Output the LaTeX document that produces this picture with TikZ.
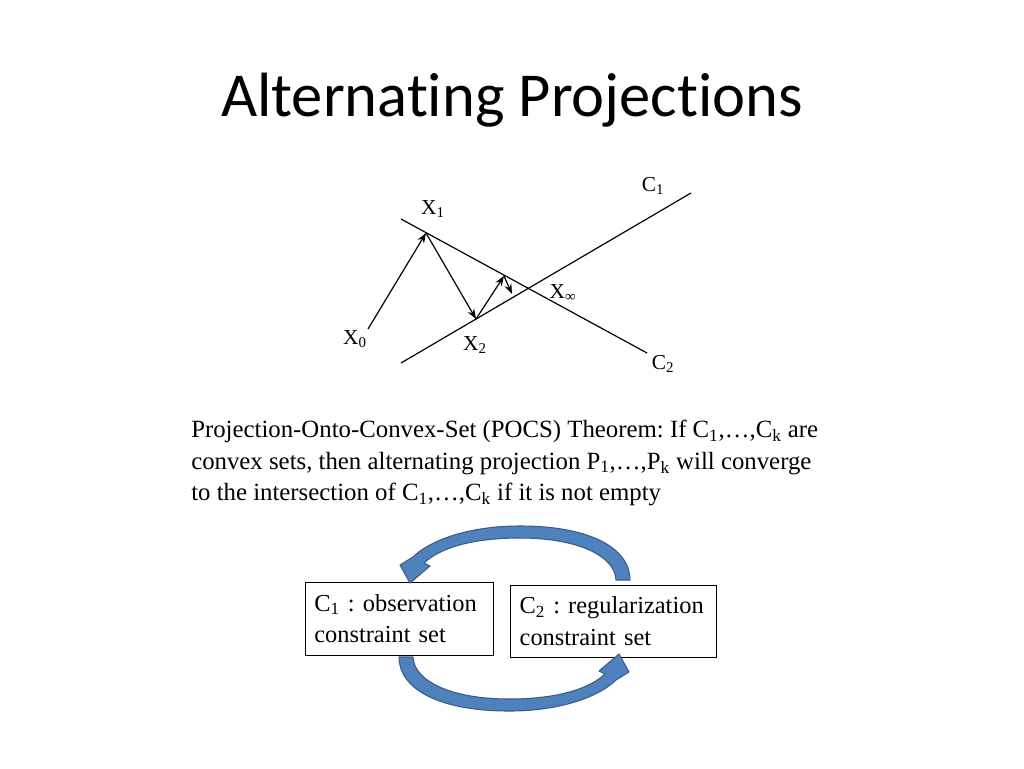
\documentclass[tikz,border=0pt]{standalone}
\usepackage{fontspec}
\setmainfont{Liberation Serif}
\newfontfamily\titlefont[RawFeature=-liga]{Carlito}
\usetikzlibrary{arrows.meta}
\frenchspacing
\definecolor{arrowblue}{HTML}{4F81BD}
\definecolor{arrowedge}{HTML}{385D8A}
\tikzset{
  lbl/.style={inner sep=0pt, font=\fontsize{16}{19}\selectfont},
  setline/.style={line width=0.9pt},
  projarrow/.style={line width=0.9pt, -{Stealth[length=7.5pt,width=5.5pt]}},
  setbox/.style={draw, line width=0.7pt, align=left, font=\fontsize{18.3}{23.5}\selectfont\frenchspacing, inner xsep=0pt, inner ysep=0pt},
  curvarrow/.pic={
    \filldraw[fill=arrowblue, draw=arrowedge, line width=0.8pt, line join=round]
      (630,580) .. controls (630,548) and (590,526) .. (520,526)
      .. controls (465,526) and (428,542) .. (413,557)
      -- (400,565) -- (410,583) -- (430,566) -- (424,563)
      .. controls (440,548) and (472,538) .. (520,538)
      .. controls (578,538) and (615,556) .. (616,580) -- cycle;
  }
}
\begin{document}
\begin{tikzpicture}[x=0.75pt,y=-0.75pt]
\useasboundingbox (0,0) rectangle (1024,768);
\fill[white] (0,0) rectangle (1024,768);
% title
\node[inner sep=0pt, font=\titlefont\fontsize{46.9}{56}\selectfont] (title) at (512,100) {Alternating Projections};
% sets
\coordinate (c1a) at (401,363);
\coordinate (c1b) at (691,193);
\coordinate (c2a) at (401,219);
\coordinate (c2b) at (647,353);
\draw[setline] (c1a) -- (c1b);
\draw[setline] (c2a) -- (c2b);
% iterates
\coordinate (p0) at (368,329);
\coordinate (p1) at (426,233);
\coordinate (p2) at (476,319);
\coordinate (p3) at (504,276);
\coordinate (p4) at (512,294);
\draw[projarrow] (p0) -- (p1);
\draw[projarrow] (p1) -- (p2);
\draw[projarrow] (p2) -- (p3);
\draw[projarrow] (p3) -- (p4);
% labels
\node[lbl] (x0) at (355,339) {X\textsubscript{0}};
\node[lbl] (x1) at (433,209) {X\textsubscript{1}};
\node[lbl] (x2) at (475,345) {X\textsubscript{2}};
\node[lbl] (xinf) at (563,293) {X\textsubscript{∞}};
\node[lbl] (c1) at (653,186) {C\textsubscript{1}};
\node[lbl] (c2) at (663,364) {C\textsubscript{2}};
% theorem
\node[anchor=north west, inner sep=0pt, align=left, font=\fontsize{18.6}{23.6}\selectfont] (thm) at (191,420)
 {Projection-Onto-Convex-Set (POCS) Theorem: If C\textsubscript{1},…,C\textsubscript{k} are\\
  convex sets, then alternating projection P\textsubscript{1},…,P\textsubscript{k} will converge\\
  to the intersection of C\textsubscript{1},…,C\textsubscript{k} if it is not empty};
% boxes
\node[setbox, minimum width=141pt, minimum height=54.75pt, text width=127pt] (b1) at (399,618.5)
 {C\textsubscript{1} : observation\\constraint set};
\node[setbox, minimum width=154.5pt, minimum height=54pt, text width=140pt] (b2) at (613,621)
 {C\textsubscript{2} : regularization\\constraint set};
% curved arrows
\pic at (0,0) {curvarrow};
\pic[rotate=180] at (1029,1237) {curvarrow};
\end{tikzpicture}
\end{document}
